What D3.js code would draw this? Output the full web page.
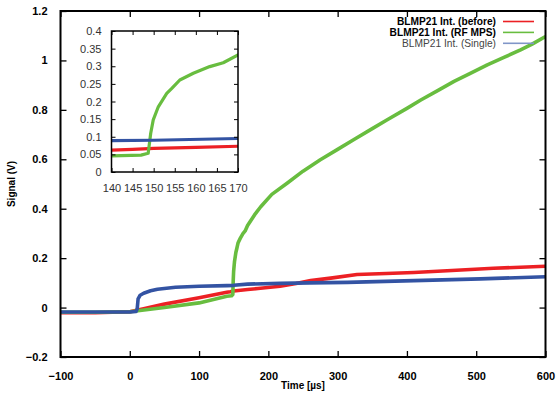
<!DOCTYPE html>
<html>
<head>
<meta charset="utf-8">
<script src="https://cdn.jsdelivr.net/npm/d3@7/dist/d3.min.js"></script>
<style>
  body { margin: 0; background: #fff; }
  svg { display: block; font-family: 'Liberation Sans', Arial, Helvetica, sans-serif; }
  .main-tick text { font-size: 11px; font-weight: bold; fill: #000; }
  .inset-tick text { font-size: 11px; fill: #333; }
  .frame { fill: none; stroke: #000; }
  .trace { fill: none; stroke-linejoin: round; stroke-linecap: butt; }
</style>
</head>
<body>
<div id="chart"></div>
<script>
// values (time in µs, signal in V)
const beforeTime = [-100, -50, 0, 20, 50, 100, 140, 145, 150, 160, 170, 185, 217, 240, 261, 290, 328, 370, 410, 458, 525, 600];
const beforeSignal = [-0.021, -0.021, -0.017, -0.005, 0.014, 0.04, 0.062, 0.064, 0.067, 0.07, 0.073, 0.077, 0.086, 0.097, 0.109, 0.119, 0.134, 0.138, 0.142, 0.149, 0.159, 0.167];

const rfTime = [-100, -50, 0, 50, 100, 140, 147, 148.7, 149.3, 149.9, 151.1, 153.1, 154.3, 156.2, 159.4, 163.3, 166.5, 170, 180, 189, 205, 227, 250, 275, 300, 323, 350, 371, 400, 420, 445, 468, 490, 516, 540, 564, 580, 600];
const rfSignal = [-0.019, -0.019, -0.017, 0.0, 0.019, 0.046, 0.048, 0.053, 0.11, 0.148, 0.185, 0.223, 0.237, 0.261, 0.28, 0.299, 0.31, 0.332, 0.375, 0.408, 0.458, 0.503, 0.552, 0.598, 0.64, 0.679, 0.724, 0.759, 0.806, 0.84, 0.879, 0.915, 0.946, 0.982, 1.012, 1.043, 1.065, 1.097];

const singleTime = [-100, -50, 0, 9, 10.7, 12, 15, 20, 30, 40, 66, 100, 140, 150, 170, 217, 260, 314, 410, 506, 600];
const singleSignal = [-0.018, -0.018, -0.018, -0.016, -0.005, 0.035, 0.05, 0.058, 0.068, 0.074, 0.082, 0.086, 0.089, 0.09, 0.095, 0.098, 0.1, 0.102, 0.109, 0.116, 0.125];

const seriesNames = ["BLMP21 Int. (before)", "BLMP21 Int. (RF MPS)", "BLMP21 Int. (Single)"];
const seriesColors = ["#ec2024", "#68bd3f", "#3353a3"];
const legendColors = ["#ec2024", "#68bd3f", "#8096c8"];

const xTicks = [-100, 0, 100, 200, 300, 400, 500, 600];
const yTicks = [-0.2, 0, 0.2, 0.4, 0.6, 0.8, 1, 1.2];
const insetXTicks = [140, 145, 150, 155, 160, 165, 170];
const insetYTicks = [0, 0.05, 0.1, 0.15, 0.2, 0.25, 0.3, 0.35, 0.4];

const series = [
  { time: beforeTime, signal: beforeSignal },
  { time: rfTime, signal: rfSignal },
  { time: singleTime, signal: singleSignal }
].map((s, i) => ({
  name: seriesNames[i],
  color: seriesColors[i],
  points: s.time.map((t, j) => ({ t, v: s.signal[j] }))
}));

const width = 556, height = 393;
const svg = d3.select("#chart").append("svg")
  .attr("width", width).attr("height", height);

// main panel
const x = d3.scaleLinear().domain([-100, 600]).range([60.5, 545.5]);
const y = d3.scaleLinear().domain([-0.2, 1.2]).range([357, 11]);

svg.append("clipPath").attr("id", "clip-main")
  .append("rect").attr("x", 60.5).attr("y", 11).attr("width", 485).attr("height", 346);

const mainLine = d3.line().x(d => x(d.t)).y(d => y(d.v));
const traces = svg.append("g").attr("clip-path", "url(#clip-main)");
series.forEach(s => {
  traces.append("path").datum(s.points)
    .attr("class", "trace")
    .attr("stroke", s.color)
    .attr("stroke-width", 3.6)
    .attr("d", mainLine);
});

// inward ticks on all four sides, gnuplot style
const tickLen = 6;
svg.append("g").attr("class", "main-tick")
  .attr("transform", "translate(0,357)")
  .call(d3.axisBottom(x).tickValues(xTicks).tickSize(-tickLen).tickPadding(tickLen + 9).tickFormat(d3.format("d")))
  .call(g => g.select(".domain").remove())
  .call(g => g.selectAll("line").attr("stroke", "#000").attr("stroke-width", 1.3));
svg.append("g").attr("transform", "translate(0,11)")
  .call(d3.axisTop(x).tickValues(xTicks).tickSize(-tickLen).tickFormat(""))
  .call(g => g.select(".domain").remove())
  .call(g => g.selectAll("line").attr("stroke", "#000").attr("stroke-width", 1.3));
svg.append("g").attr("class", "main-tick")
  .attr("transform", "translate(60.5,0)")
  .call(d3.axisLeft(y).tickValues(yTicks).tickSize(-tickLen).tickPadding(tickLen + 7).tickFormat(d => d3.format("~g")(d)))
  .call(g => g.select(".domain").remove())
  .call(g => g.selectAll("line").attr("stroke", "#000").attr("stroke-width", 1.3));
svg.append("g").attr("transform", "translate(545.5,0)")
  .call(d3.axisRight(y).tickValues(yTicks).tickSize(-tickLen).tickFormat(""))
  .call(g => g.select(".domain").remove())
  .call(g => g.selectAll("line").attr("stroke", "#000").attr("stroke-width", 1.3));

svg.append("rect").attr("class", "frame")
  .attr("x", 60.5).attr("y", 11).attr("width", 485).attr("height", 346)
  .attr("stroke-width", 2);

svg.append("text")
  .attr("x", 303).attr("y", 389)
  .attr("text-anchor", "middle")
  .style("font-size", "10px").style("font-weight", "bold")
  .text("Time [µs]");
svg.append("text")
  .attr("transform", "translate(15,184) rotate(-90)")
  .attr("text-anchor", "middle")
  .style("font-size", "10px").style("font-weight", "bold")
  .text("Signal (V)");

// legend
const legend = svg.append("g");
series.forEach((s, i) => {
  const ly = 21.5 + i * 10.9;
  legend.append("text")
    .attr("x", 496).attr("y", ly + 3.6)
    .attr("text-anchor", "end")
    .style("font-size", "10.2px")
    .style("font-weight", i < 2 ? "bold" : "normal")
    .style("fill", i < 2 ? "#000" : "#444")
    .text(s.name);
  legend.append("line")
    .attr("x1", 503).attr("x2", 534).attr("y1", ly).attr("y2", ly)
    .attr("stroke", legendColors[i]).attr("stroke-width", 1.6);
});

// inset panel
const ix = d3.scaleLinear().domain([140, 170]).range([111.5, 238]);
const iy = d3.scaleLinear().domain([0, 0.4]).range([172, 31]);

svg.append("rect").attr("x", 111.5).attr("y", 31).attr("width", 126.5).attr("height", 141).attr("fill", "#fff");
svg.append("clipPath").attr("id", "clip-inset")
  .append("rect").attr("x", 111.5).attr("y", 31).attr("width", 126.5).attr("height", 141);

const insetLine = d3.line().x(d => ix(d.t)).y(d => iy(d.v));
const insetTraces = svg.append("g").attr("clip-path", "url(#clip-inset)");
series.forEach(s => {
  insetTraces.append("path").datum(s.points)
    .attr("class", "trace")
    .attr("stroke", s.color)
    .attr("stroke-width", 3.2)
    .attr("d", insetLine);
});

const iTick = 4;
svg.append("g").attr("class", "inset-tick")
  .attr("transform", "translate(0,172)")
  .call(d3.axisBottom(ix).tickValues(insetXTicks).tickSize(-iTick).tickPadding(iTick + 8).tickFormat(d3.format("d")))
  .call(g => g.select(".domain").remove())
  .call(g => g.selectAll("line").attr("stroke", "#000"));
svg.append("g").attr("transform", "translate(0,31)")
  .call(d3.axisTop(ix).tickValues(insetXTicks).tickSize(-iTick).tickFormat(""))
  .call(g => g.select(".domain").remove())
  .call(g => g.selectAll("line").attr("stroke", "#000"));
svg.append("g").attr("class", "inset-tick")
  .attr("transform", "translate(111.5,0)")
  .call(d3.axisLeft(iy).tickValues(insetYTicks).tickSize(-iTick).tickPadding(iTick + 6).tickFormat(d => d3.format("~g")(d)))
  .call(g => g.select(".domain").remove())
  .call(g => g.selectAll("line").attr("stroke", "#000"));
svg.append("g").attr("transform", "translate(238,0)")
  .call(d3.axisRight(iy).tickValues(insetYTicks).tickSize(-iTick).tickFormat(""))
  .call(g => g.select(".domain").remove())
  .call(g => g.selectAll("line").attr("stroke", "#000"));

svg.append("rect").attr("class", "frame")
  .attr("x", 111.5).attr("y", 31).attr("width", 126.5).attr("height", 141)
  .attr("stroke-width", 1.5);
</script>
</body>
</html>
